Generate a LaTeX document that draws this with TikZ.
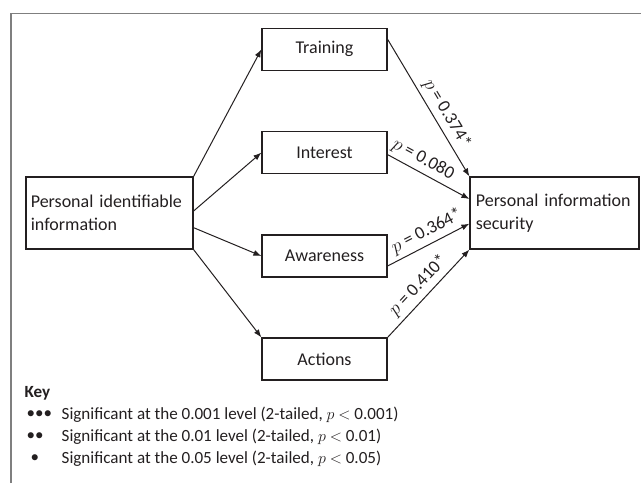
\documentclass[tikz,border=0pt]{standalone}
\usepackage{fontspec}
\setmainfont{Carlito}
\usetikzlibrary{arrows.meta}
\definecolor{ink}{HTML}{231F20}
\definecolor{frame}{HTML}{7F7F7F}
\newcommand{\myPath}[5]{
\draw[link] (#1) -- node[plabel, pos=#3] (#4) {$p$ = #5} (#2);
}
\newcommand{\myKeyLine}[4]{
\node[keytext] (#1dots) at (22,#2) {#3};
\node[keytext] (#1) at (57,#2) {#4};
}

\begin{document}
\begin{tikzpicture}[x=0.75pt, y=-0.75pt, ink, font=\fontsize{13.5}{17}\selectfont,
	box/.style={draw, line width=0.9pt, minimum width=93.75pt, minimum height=31.5pt, inner sep=0pt},
	widebox/.style={box, minimum width=125.25pt, minimum height=54pt, text width=118pt, align=left},
	link/.style={-{Latex[length=6pt,width=4.5pt]}, line width=0.75pt},
	plabel/.style={sloped, above, inner sep=3pt},
	keytext/.style={anchor=west, font=\fontsize{12.8}{16}\selectfont}]
	\useasboundingbox (0,0) rectangle (641,483);
	\draw[frame, line width=1pt] (11,483) |- (641,13.3);

	\node[widebox] (pii) at (109.5,213) {Personal identifiable\\information};
	\node[widebox, minimum width=126.75pt] (pis) at (554.5,213) {Personal information\\security};
	\node[box] (trn) at (324.5,49.3) {Training};
	\node[box] (intr) at (324.5,152.6) {Interest};
	\node[box] (awr) at (324.5,256) {Awareness};
	\node[box] (act) at (324.5,359) {Actions};

	\draw[link] (pii.north east) -- (trn.west);
	\draw[link] ([yshift=1.5pt]pii.east) -- (intr.west);
	\draw[link] ([yshift=-11pt]pii.east) -- (awr.west);
	\draw[link] (pii.south east) -- (act.north west);

	\myPath{[yshift=7.5pt]trn.east}{pis.north west}{0.59}{ptrn}{0.374*}
	\myPath{[yshift=-1.5pt]intr.east}{[yshift=10.5pt]pis.west}{0.36}{pintr}{0.080}
	\myPath{[yshift=-7.5pt]awr.east}{[yshift=-8pt]pis.west}{0.55}{pawr}{0.364*}
	\myPath{act.north east}{pis.south west}{0.49}{pact}{0.410*}

	\node[keytext, font=\fontsize{12.8}{16}\selectfont\bfseries] (key) at (20,393) {Key};
	\myKeyLine{kone}{415}{\textbullet\textbullet\textbullet}{Significant at the 0.001 level (2-tailed, $p$ $<$ 0.001)}
	\myKeyLine{ktwo}{437}{\textbullet\textbullet}{Significant at the 0.01 level (2-tailed, $p$ $<$ 0.01)}
	\myKeyLine{kthree}{459}{\ \textbullet}{Significant at the 0.05 level (2-tailed, $p$ $<$ 0.05)}
\end{tikzpicture}
\end{document}
